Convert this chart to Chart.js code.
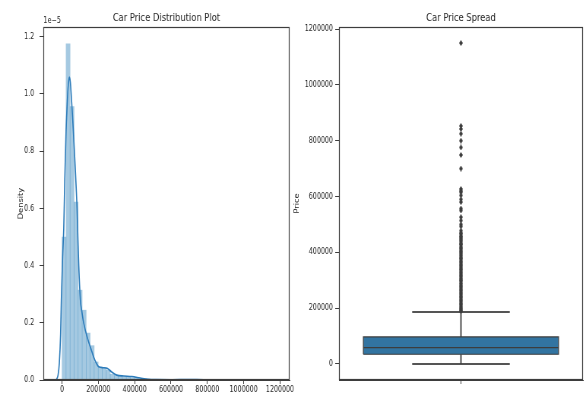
<!DOCTYPE html>
<html>
<head>
<meta charset="utf-8">
<script src="https://cdn.jsdelivr.net/npm/chart.js@4.4.1/dist/chart.umd.min.js"></script>
<style>
  html, body { margin: 0; padding: 0; background: #fff; }
  #wrap { position: relative; width: 586px; height: 395px; overflow: hidden; background: #fff; }
  /* the drawing surface is wider than the page and shown horizontally condensed */
  #wrap canvas { position: absolute; left: 0; top: 0; width: 586px; height: 395px; }
</style>
</head>
<body>
<div id="wrap">
  <canvas id="dist" width="771" height="395" style="width:586px;height:395px"></canvas>
  <canvas id="spread" width="771" height="395" style="width:586px;height:395px"></canvas>
</div>
<script>
// ---- Histogram of car prices (density, in units of 1e-5) ----
const BIN_START = 0;
const BIN_WIDTH = 22115;
const binDensity = [
  0.50, 1.175, 0.956, 0.622, 0.314, 0.244, 0.164, 0.120, 0.063, 0.045,
  0.043, 0.035, 0.020, 0.016, 0.013, 0.011, 0.012, 0.008, 0.009, 0.005,
  0.004, 0.003, 0.002, 0.002, 0.001, 0.001, 0.0005, 0.0005, 0, 0,
  0.001, 0.0015, 0, 0.001, 0, 0.001, 0.001, 0.0005, 0.001, 0,
  0, 0, 0, 0, 0, 0, 0, 0, 0, 0,
  0, 0.0005
];

// ---- Kernel density estimate of price ----
const kdePrice = [
  -41400, -36900, -29000, -22000, -14900, -8000, -3900, 3000, 9400, 14900,
  22000, 28000, 33000, 40200, 46000, 51200, 57000, 62300, 68000, 73300,
  78000, 82600, 87000, 92000, 100800, 110000, 119600, 137700, 161400, 180200,
  202200, 225000, 248000, 271600, 301400, 340000, 384000, 430000, 474000, 520000,
  600000, 650000, 694000, 740000, 800000, 900000, 1000000, 1100000, 1150000, 1191400
];
const kdeDensity = [
  0.0, 0.0003, 0.004, 0.017, 0.06, 0.16, 0.28, 0.43, 0.53, 0.70,
  0.87, 0.96, 1.02, 1.059, 1.04, 0.99, 0.93, 0.87, 0.80, 0.733,
  0.67, 0.60, 0.50, 0.40, 0.28, 0.235, 0.198, 0.151, 0.105, 0.07,
  0.046, 0.043, 0.041, 0.029, 0.017, 0.014, 0.012, 0.007, 0.0025, 0.0015,
  0.001, 0.0012, 0.002, 0.0012, 0.0008, 0.0003, 0.0002, 0.0003, 0.0004, 0.0001
];

const distXTicks = [0, 200000, 400000, 600000, 800000, 1000000, 1200000];
const distYTicks = [0, 0.2, 0.4, 0.6, 0.8, 1.0, 1.2];

// ---- Box plot summary of price ----
const priceQ1 = 34800;
const priceMedian = 58400;
const priceQ3 = 96800;
const whiskerLow = 0;
const whiskerHigh = 186400;
const priceOutliers = [
  1150000, 853000, 842000, 825000, 800000, 776000, 749000, 700000,
  627000, 620000, 615000, 604000, 590000, 580000, 557000, 550000,
  526000, 514000, 500000, 493000,
  478000, 470000, 466000, 459000, 455000, 450000, 446000, 441000, 435000, 430000,
  427000, 420000, 415000, 411000, 405000, 400000, 396000, 390000, 385000, 380000,
  376000, 370000, 365000, 360000, 355000, 350000, 345000, 340000, 336000, 330000,
  325000, 320000, 315000, 310000, 305000, 300000, 297000, 290000, 285000, 280000,
  275000, 270000, 265000, 260000, 255000, 250000, 245000, 240000, 235000, 230000,
  225000, 220000, 215000, 210000, 205000, 200000, 196000, 192000, 189000
];
const spreadYTicks = [0, 200000, 400000, 600000, 800000, 1000000, 1200000];

// ---- Shared styling ----
const FONT = '"DejaVu Sans", sans-serif';
const TEXT = '#262626';
const SPINE = '#3d3d3d';
const BOX_FILL = '#3274a1';
const BOX_EDGE = '#3d3d3d';
Chart.defaults.font.family = FONT;
Chart.defaults.color = TEXT;

// Full rectangular frame round the plotting area
const framePlugin = {
  id: 'frame',
  afterDraw(chart) {
    const { ctx, chartArea: a } = chart;
    ctx.save();
    ctx.strokeStyle = SPINE;
    ctx.lineWidth = 1.2;
    ctx.strokeRect(Math.round(a.left) + 0.5, Math.round(a.top) + 0.5,
                   Math.round(a.right - a.left) - 1, Math.round(a.bottom - a.top) - 1);
    ctx.restore();
  }
};

// Scale multiplier written above the y axis
const offsetTextPlugin = {
  id: 'offsetText',
  afterDraw(chart, args, opts) {
    if (!opts.text) return;
    const { ctx, chartArea: a } = chart;
    ctx.save();
    ctx.font = '8.5px ' + FONT;
    ctx.fillStyle = TEXT;
    ctx.textAlign = 'left';
    ctx.textBaseline = 'bottom';
    ctx.fillText(opts.text, a.left, a.top - 2);
    ctx.restore();
  }
};

const tickFont = () => ({ size: 8.3, family: FONT });
const labelFont = () => ({ size: 8.3, family: FONT });
const titleFont = () => ({ size: 11, weight: 'normal', lineHeight: '12px', family: FONT });

// ---- Left: distribution plot ----
new Chart(document.getElementById('dist'), {
  type: 'bar',
  data: {
    datasets: [
      {
        type: 'line',
        label: 'KDE',
        data: kdePrice.map((p, i) => ({ x: p, y: kdeDensity[i] })),
        borderColor: '#2b7bba',
        borderWidth: 1.6,
        pointRadius: 0,
        cubicInterpolationMode: 'monotone',
        fill: false,
        order: 0
      },
      {
        type: 'bar',
        label: 'Histogram',
        data: binDensity.map((d, i) => ({ x: BIN_START + (i + 0.5) * BIN_WIDTH, y: d })),
        backgroundColor: 'rgba(31,119,180,0.4)',
        borderWidth: 0,
        barPercentage: 1,
        categoryPercentage: 1,
        order: 1
      }
    ]
  },
  options: {
    responsive: false,
    animation: false,
    devicePixelRatio: 1,
    layout: { padding: { left: 0, right: 390, top: 0, bottom: 0 } },
    plugins: {
      legend: { display: false },
      tooltip: { enabled: false },
      title: {
        display: true,
        text: 'Car Price Distribution Plot',
        fullSize: false,
        color: TEXT,
        font: titleFont(),
        padding: { top: 12, bottom: 3 }
      },
      offsetText: { text: '1e\u22125' }
    },
    scales: {
      x: {
        type: 'linear',
        min: -103040,
        max: 1253040,
        offset: false,
        afterBuildTicks: s => { s.ticks = distXTicks.map(v => ({ value: v })); },
        afterFit: s => { s.height = 15; },
        ticks: { callback: v => String(v), autoSkip: false, maxRotation: 0, padding: 1, color: TEXT, font: tickFont() },
        grid: { display: true, drawOnChartArea: false, offset: false, tickLength: 4, tickColor: SPINE },
        border: { display: true, color: SPINE }
      },
      y: {
        type: 'linear',
        min: 0,
        max: 1.234,
        afterBuildTicks: s => { s.ticks = distYTicks.map(v => ({ value: v })); },
        afterFit: s => { s.width = 57; },
        ticks: { callback: v => v.toFixed(1), padding: 7, color: TEXT, font: tickFont() },
        grid: { display: true, drawOnChartArea: false, tickLength: 5, tickColor: SPINE },
        border: { display: true, color: SPINE },
        title: { display: true, text: 'Density', color: TEXT, font: labelFont(), padding: { top: 22.5, bottom: 0 } }
      }
    }
  },
  plugins: [framePlugin, offsetTextPlugin]
});

// ---- Right: box plot of price ----
function diamondMarker(w, h, color) {
  const c = document.createElement('canvas');
  c.width = w; c.height = h;
  const g = c.getContext('2d');
  g.fillStyle = color;
  g.beginPath();
  g.moveTo(w / 2, 0); g.lineTo(w, h / 2); g.lineTo(w / 2, h); g.lineTo(0, h / 2);
  g.closePath();
  g.fill();
  return c;
}

const BOX_HALF = 0.4;   // half width of the box in category units
const CAP_HALF = 0.2;   // half width of the whisker caps
const lineDs = (pts, extra) => Object.assign({
  data: pts,
  borderColor: BOX_EDGE,
  borderWidth: 1.5,
  pointRadius: 0,
  fill: false,
  tension: 0
}, extra || {});

new Chart(document.getElementById('spread'), {
  type: 'line',
  data: {
    datasets: [
      // outliers (image marker, so the radius only affects layout reserve)
      {
        label: 'Outliers',
        data: priceOutliers.map(v => ({ x: 0, y: v })),
        showLine: false,
        pointStyle: diamondMarker(5, 6, BOX_EDGE),
        pointRadius: 1,
        pointBorderWidth: 0,
        order: 0
      },
      // median
      lineDs([{ x: -BOX_HALF, y: priceMedian }, { x: BOX_HALF, y: priceMedian }], { borderWidth: 1.3, order: 1 }),
      // box outline
      lineDs([{ x: -BOX_HALF, y: priceQ1 }, { x: -BOX_HALF, y: priceQ3 }, { x: BOX_HALF, y: priceQ3 },
              { x: BOX_HALF, y: priceQ1 }, { x: -BOX_HALF, y: priceQ1 }], { borderWidth: 1.2, order: 2 }),
      // box fill
      {
        label: 'Box',
        data: [{ x: -BOX_HALF, y: priceQ3 }, { x: BOX_HALF, y: priceQ3 }],
        borderWidth: 0,
        pointRadius: 0,
        backgroundColor: BOX_FILL,
        fill: { value: priceQ1 },
        order: 3
      },
      // whiskers and caps
      lineDs([{ x: 0, y: priceQ3 }, { x: 0, y: whiskerHigh }], { borderWidth: 1.8, order: 4 }),
      lineDs([{ x: 0, y: priceQ1 }, { x: 0, y: whiskerLow }], { borderWidth: 1.8, order: 4 }),
      lineDs([{ x: -CAP_HALF, y: whiskerHigh }, { x: CAP_HALF, y: whiskerHigh }], { borderColor: '#555', borderWidth: 2, order: 4 }),
      lineDs([{ x: -CAP_HALF, y: whiskerLow }, { x: CAP_HALF, y: whiskerLow }], { borderColor: '#555', borderWidth: 2, order: 4 })
    ]
  },
  options: {
    responsive: false,
    animation: false,
    devicePixelRatio: 1,
    layout: { padding: { left: 383, right: 1, top: 0, bottom: 0 } },
    plugins: {
      legend: { display: false },
      tooltip: { enabled: false },
      title: {
        display: true,
        text: 'Car Price Spread',
        fullSize: false,
        color: TEXT,
        font: titleFont(),
        padding: { top: 12, bottom: 3 }
      }
    },
    scales: {
      x: {
        type: 'linear',
        min: -0.5,
        max: 0.5,
        afterBuildTicks: s => { s.ticks = [{ value: 0 }]; },
        afterFit: s => { s.height = 15; },
        ticks: { callback: () => '', color: TEXT, font: tickFont() },
        grid: { display: true, drawOnChartArea: false, tickLength: 4, tickColor: SPINE },
        border: { display: true, color: SPINE }
      },
      y: {
        type: 'linear',
        min: -57500,
        max: 1207500,
        afterBuildTicks: s => { s.ticks = spreadYTicks.map(v => ({ value: v })); },
        afterFit: s => { s.width = 63; },
        ticks: { callback: v => String(v), padding: 3, color: TEXT, font: tickFont() },
        grid: { display: true, drawOnChartArea: false, tickLength: 5, tickColor: SPINE },
        border: { display: true, color: SPINE },
        title: { display: true, text: 'Price', color: TEXT, font: labelFont(), padding: { top: 2.8, bottom: 0 } }
      }
    }
  },
  plugins: [framePlugin]
});
</script>
</body>
</html>
